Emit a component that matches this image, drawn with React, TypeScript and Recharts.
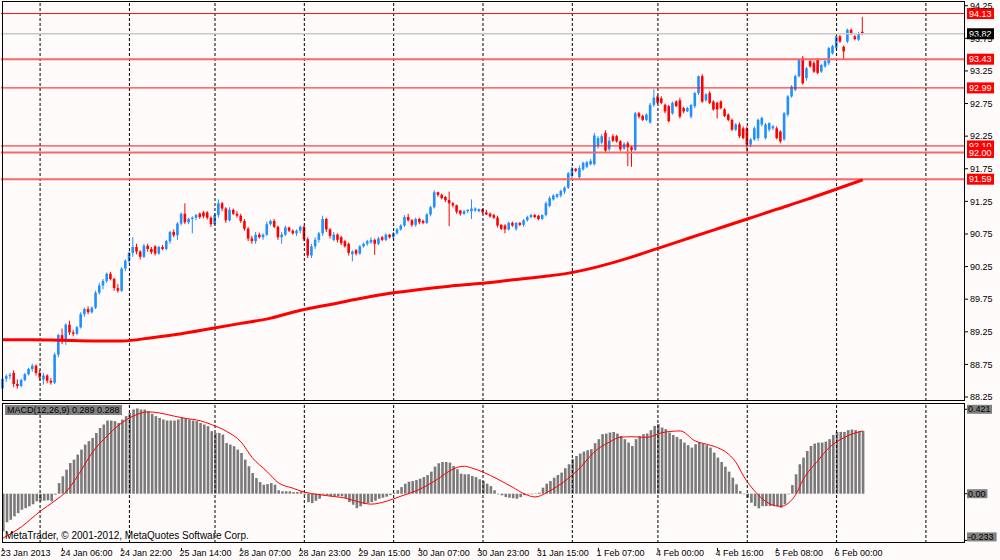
import { ComposedChart, Bar, Line, XAxis, YAxis, ReferenceLine } from "recharts";

// H1 candles, [open, high, low, close], bar 0 = 23 Jan 14:00
const candles: [number, number, number, number][] = [
  [88.38, 88.56, 88.34, 88.53], [88.53, 88.6, 88.48, 88.57], [88.57, 88.62, 88.52, 88.59], [88.62, 88.66, 88.4, 88.45],
  [88.45, 88.52, 88.38, 88.42], [88.42, 88.53, 88.4, 88.51], [88.51, 88.62, 88.49, 88.6], [88.6, 88.7, 88.58, 88.68],
  [88.68, 88.76, 88.64, 88.73], [88.73, 88.75, 88.58, 88.62], [88.62, 88.66, 88.5, 88.55], [88.52, 88.62, 88.44, 88.58],
  [88.58, 88.6, 88.46, 88.5], [88.5, 88.54, 88.44, 88.47], [88.47, 88.93, 88.45, 88.9], [88.9, 89.22, 88.86, 89.2],
  [89.2, 89.3, 89.06, 89.1], [89.1, 89.38, 89.05, 89.36], [89.36, 89.42, 89.2, 89.24], [89.24, 89.28, 89.18, 89.22],
  [89.22, 89.34, 89.2, 89.32], [89.32, 89.55, 89.3, 89.52], [89.52, 89.62, 89.48, 89.6], [89.6, 89.64, 89.52, 89.55],
  [89.55, 89.64, 89.53, 89.62], [89.62, 89.88, 89.6, 89.85], [89.85, 90.0, 89.82, 89.96], [89.96, 90.06, 89.9, 90.03],
  [90.03, 90.16, 90.0, 90.14], [90.14, 90.17, 90.04, 90.06], [90.06, 90.08, 89.88, 89.92], [89.92, 89.98, 89.85, 89.88],
  [89.88, 90.24, 89.86, 90.22], [90.22, 90.36, 90.18, 90.34], [90.34, 90.48, 90.3, 90.46], [90.46, 90.7, 90.4, 90.55],
  [90.55, 90.6, 90.44, 90.48], [90.48, 90.5, 90.36, 90.4], [90.4, 90.6, 90.38, 90.57], [90.57, 90.6, 90.48, 90.52],
  [90.52, 90.55, 90.44, 90.47], [90.56, 90.58, 90.42, 90.45], [90.45, 90.57, 90.43, 90.55], [90.55, 90.58, 90.5, 90.52],
  [90.52, 90.66, 90.5, 90.64], [90.64, 90.8, 90.6, 90.78], [90.78, 90.82, 90.7, 90.73], [90.73, 90.93, 90.66, 90.91],
  [90.91, 91.08, 90.88, 91.06], [91.06, 91.22, 90.9, 90.93], [90.93, 91.0, 90.9, 90.98], [90.98, 91.02, 90.76, 91.0],
  [91.0, 91.06, 90.96, 91.04], [91.06, 91.08, 90.98, 91.01], [91.08, 91.1, 90.99, 91.02], [91.08, 91.1, 90.97, 91.0],
  [91.0, 91.02, 90.86, 90.9], [90.9, 91.07, 90.88, 91.04], [91.04, 91.28, 91.0, 91.22], [91.22, 91.24, 91.1, 91.14],
  [91.14, 91.16, 90.92, 90.96], [90.96, 91.16, 90.94, 91.12], [91.12, 91.14, 91.04, 91.06], [91.06, 91.1, 91.0, 91.03],
  [91.03, 91.06, 90.92, 90.95], [90.95, 90.98, 90.8, 90.83], [90.83, 90.86, 90.64, 90.68], [90.68, 90.72, 90.6, 90.64],
  [90.64, 90.78, 90.6, 90.74], [90.74, 90.77, 90.68, 90.7], [90.7, 90.76, 90.66, 90.74], [90.74, 90.94, 90.72, 90.9],
  [90.9, 90.97, 90.88, 90.95], [90.95, 90.98, 90.84, 90.86], [90.86, 90.88, 90.66, 90.7], [90.7, 90.78, 90.6, 90.74],
  [90.74, 90.88, 90.72, 90.85], [90.85, 90.86, 90.78, 90.8], [90.8, 90.82, 90.74, 90.76], [90.76, 90.82, 90.72, 90.8],
  [90.8, 90.88, 90.76, 90.86], [90.86, 90.88, 90.64, 90.67], [90.67, 90.7, 90.38, 90.42], [90.42, 90.6, 90.38, 90.56],
  [90.56, 90.7, 90.52, 90.66], [90.66, 90.78, 90.62, 90.76], [90.76, 91.03, 90.72, 90.98], [90.98, 91.0, 90.78, 90.82],
  [90.82, 90.84, 90.68, 90.72], [90.66, 90.78, 90.64, 90.74], [90.74, 90.76, 90.62, 90.66], [90.7, 90.72, 90.58, 90.61],
  [90.64, 90.66, 90.54, 90.56], [90.6, 90.62, 90.42, 90.46], [90.44, 90.5, 90.33, 90.48], [90.5, 90.52, 90.42, 90.45],
  [90.45, 90.58, 90.43, 90.56], [90.56, 90.62, 90.54, 90.6], [90.6, 90.66, 90.57, 90.64], [90.62, 90.7, 90.6, 90.66],
  [90.66, 90.68, 90.43, 90.6], [90.6, 90.71, 90.58, 90.68], [90.7, 90.72, 90.64, 90.66], [90.66, 90.76, 90.64, 90.74],
  [90.74, 90.75, 90.68, 90.7], [90.7, 90.78, 90.66, 90.76], [90.76, 90.84, 90.74, 90.82], [90.82, 90.9, 90.8, 90.88],
  [90.88, 91.04, 90.86, 91.01], [91.01, 91.06, 90.94, 90.96], [90.96, 90.98, 90.86, 90.89], [90.89, 91.0, 90.86, 90.98],
  [90.98, 91.0, 90.9, 90.93], [90.95, 90.97, 90.9, 90.92], [90.92, 91.07, 90.9, 91.05], [91.05, 91.18, 91.02, 91.16],
  [91.16, 91.42, 91.14, 91.39], [91.39, 91.4, 91.32, 91.35], [91.35, 91.37, 91.28, 91.3], [91.32, 91.33, 91.24, 91.27],
  [91.27, 91.4, 90.87, 91.22], [91.22, 91.24, 91.16, 91.19], [91.19, 91.2, 91.06, 91.09], [91.11, 91.12, 91.03, 91.06],
  [91.06, 91.12, 91.04, 91.1], [91.1, 91.13, 91.07, 91.12], [91.1, 91.28, 90.98, 91.14], [91.11, 91.16, 91.09, 91.14],
  [91.1, 91.14, 91.08, 91.13], [91.13, 91.14, 91.06, 91.08], [91.08, 91.12, 91.04, 91.05], [91.06, 91.08, 91.0, 91.02],
  [91.04, 91.06, 90.98, 91.0], [91.0, 91.03, 90.85, 90.88], [90.89, 90.9, 90.81, 90.83], [90.88, 90.9, 90.76, 90.82],
  [90.82, 90.94, 90.8, 90.92], [90.92, 90.94, 90.86, 90.88], [90.83, 90.93, 90.8, 90.92], [90.92, 90.93, 90.87, 90.89],
  [90.89, 90.98, 90.86, 90.96], [90.96, 91.03, 90.94, 91.01], [91.01, 91.06, 90.99, 91.04], [91.04, 91.06, 90.99, 91.01],
  [91.03, 91.04, 90.96, 90.98], [90.98, 91.05, 90.96, 91.04], [91.04, 91.25, 91.02, 91.22], [91.18, 91.33, 91.16, 91.3],
  [91.28, 91.36, 91.26, 91.34], [91.32, 91.37, 91.3, 91.36], [91.34, 91.43, 91.31, 91.41], [91.4, 91.48, 91.36, 91.46],
  [91.46, 91.7, 91.44, 91.68], [91.64, 91.78, 91.6, 91.75], [91.75, 91.76, 91.7, 91.72], [91.62, 91.8, 91.58, 91.76],
  [91.74, 91.86, 91.72, 91.84], [91.78, 91.87, 91.76, 91.85], [91.82, 91.9, 91.8, 91.87], [91.82, 92.3, 91.8, 92.26],
  [92.1, 92.25, 92.06, 92.22], [92.15, 92.28, 92.12, 92.25], [92.3, 92.34, 92.0, 92.03], [92.05, 92.24, 92.02, 92.18],
  [92.25, 92.28, 92.16, 92.18], [92.25, 92.27, 92.15, 92.17], [92.17, 92.19, 92.02, 92.05], [92.06, 92.16, 92.04, 92.13],
  [92.14, 92.17, 91.79, 92.08], [92.08, 92.1, 91.78, 92.04], [92.04, 92.62, 92.02, 92.6], [92.6, 92.62, 92.52, 92.55],
  [92.56, 92.58, 92.48, 92.5], [92.5, 92.6, 92.48, 92.58], [92.46, 92.76, 92.44, 92.73], [92.73, 92.97, 92.7, 92.84],
  [92.86, 92.88, 92.74, 92.76], [92.83, 92.86, 92.74, 92.76], [92.73, 92.75, 92.6, 92.63], [92.71, 92.73, 92.46, 92.48],
  [92.6, 92.78, 92.58, 92.76], [92.78, 92.8, 92.7, 92.71], [92.8, 92.84, 92.52, 92.55], [92.68, 92.7, 92.6, 92.63],
  [92.63, 92.7, 92.62, 92.68], [92.55, 92.74, 92.52, 92.73], [92.71, 92.93, 92.68, 92.91], [92.91, 93.18, 92.88, 93.17],
  [93.17, 93.2, 92.76, 92.78], [92.8, 92.91, 92.78, 92.89], [92.91, 92.94, 92.74, 92.76], [92.78, 92.8, 92.64, 92.66],
  [92.76, 92.78, 92.52, 92.66], [92.78, 92.8, 92.66, 92.68], [92.66, 92.68, 92.54, 92.56], [92.58, 92.6, 92.48, 92.5],
  [92.5, 92.52, 92.33, 92.35], [92.35, 92.45, 92.33, 92.43], [92.43, 92.46, 92.22, 92.25], [92.37, 92.4, 92.2, 92.22],
  [92.37, 92.4, 91.99, 92.12], [92.12, 92.22, 92.08, 92.2], [92.2, 92.4, 92.18, 92.37], [92.22, 92.52, 92.18, 92.5],
  [92.43, 92.55, 92.4, 92.53], [92.22, 92.45, 92.2, 92.43], [92.35, 92.46, 92.32, 92.45], [92.37, 92.42, 92.34, 92.4],
  [92.37, 92.4, 92.2, 92.22], [92.32, 92.34, 92.14, 92.17], [92.2, 92.62, 92.18, 92.6], [92.58, 92.88, 92.55, 92.86],
  [92.86, 93.03, 92.84, 93.01], [92.96, 93.19, 92.94, 93.17], [93.17, 93.44, 93.15, 93.42], [93.45, 93.48, 93.04, 93.06],
  [93.14, 93.31, 93.1, 93.29], [93.4, 93.43, 93.3, 93.32], [93.37, 93.4, 93.22, 93.24], [93.42, 93.45, 93.2, 93.22],
  [93.24, 93.36, 93.22, 93.34], [93.32, 93.42, 93.3, 93.4], [93.37, 93.62, 93.34, 93.6], [93.52, 93.65, 93.5, 93.63],
  [93.6, 93.8, 93.58, 93.78], [93.78, 93.8, 93.68, 93.7], [93.62, 93.64, 93.42, 93.55], [93.7, 93.9, 93.68, 93.88],
  [93.88, 93.9, 93.8, 93.83], [93.78, 93.8, 93.72, 93.74], [93.73, 93.85, 93.71, 93.83], [93.85, 94.08, 93.8, 93.82],
];

// moving average, read at every 8th bar: [bar, value]
const maPoints: [number, number][] = [
  [0, 89.13], [8, 89.13], [16, 89.12], [24, 89.11], [32, 89.11], [40, 89.16], [48, 89.22], [56, 89.3],
  [64, 89.38], [72, 89.46], [80, 89.58], [88, 89.67], [96, 89.76], [104, 89.84], [112, 89.9], [120, 89.95],
  [128, 89.99], [136, 90.04], [144, 90.09], [152, 90.15], [160, 90.25], [168, 90.38], [176, 90.53], [184, 90.68],
  [192, 90.83], [200, 90.98], [208, 91.13], [216, 91.28], [224, 91.44], [231, 91.58],
];

// MACD(12,26,9) histogram, one per candle
const macdHist = [
  -0.188, -0.143, -0.13, -0.113, -0.097, -0.08, -0.072, -0.063, -0.052, -0.038,
  -0.038, -0.035, -0.033, -0.038, -0.005, 0.053, 0.087, 0.12, 0.153, 0.17,
  0.195, 0.22, 0.245, 0.262, 0.278, 0.303, 0.328, 0.345, 0.365, 0.365,
  0.362, 0.353, 0.37, 0.387, 0.403, 0.42, 0.425, 0.42, 0.42, 0.412,
  0.398, 0.387, 0.378, 0.37, 0.365, 0.365, 0.365, 0.37, 0.378, 0.375,
  0.37, 0.365, 0.362, 0.353, 0.345, 0.337, 0.312, 0.303, 0.303, 0.295,
  0.253, 0.245, 0.237, 0.22, 0.203, 0.17, 0.137, 0.103, 0.078, 0.058,
  0.045, 0.048, 0.053, 0.045, 0.017, 0.012, 0.012, 0.012, 0.008, 0.008,
  0.012, -0.005, -0.042, -0.047, -0.035, -0.025, -0.005, -0.008, -0.013, -0.013,
  -0.013, -0.013, -0.022, -0.042, -0.055, -0.072, -0.063, -0.052, -0.047, -0.042,
  -0.035, -0.025, -0.02, -0.015, -0.007, 0.004, 0.018, 0.033, 0.05, 0.06,
  0.063, 0.068, 0.075, 0.083, 0.093, 0.11, 0.135, 0.152, 0.158, 0.158,
  0.155, 0.138, 0.122, 0.1, 0.097, 0.097, 0.088, 0.083, 0.072, 0.063,
  0.05, 0.038, 0.017, -0.003, -0.008, -0.017, -0.02, -0.023, -0.025, -0.017,
  -0.007, -0.003, -0.003, 0.002, 0.005, 0.03, 0.05, 0.063, 0.08, 0.093,
  0.105, 0.127, 0.147, 0.172, 0.188, 0.2, 0.21, 0.217, 0.222, 0.252,
  0.272, 0.297, 0.3, 0.305, 0.308, 0.3, 0.288, 0.272, 0.255, 0.238,
  0.272, 0.288, 0.297, 0.3, 0.317, 0.338, 0.347, 0.33, 0.322, 0.305,
  0.293, 0.283, 0.272, 0.255, 0.242, 0.23, 0.247, 0.258, 0.25, 0.242,
  0.23, 0.205, 0.18, 0.158, 0.135, 0.11, 0.08, 0.047, 0.013, -0.003,
  -0.02, -0.045, -0.062, -0.073, -0.062, -0.062, -0.062, -0.062, -0.062, -0.07,
  -0.053, -0.003, 0.043, 0.097, 0.147, 0.18, 0.213, 0.238, 0.25, 0.255,
  0.255, 0.26, 0.272, 0.293, 0.308, 0.308, 0.308, 0.317, 0.32, 0.317,
  0.313, 0.313,
];

// signal line, read at a few bars: [bar, value]
const signalPoints: [number, number][] = [
  [0, -0.222], [5, -0.165], [10, -0.088], [14, -0.035], [17, 0.01], [21, 0.115], [24, 0.205], [28, 0.288],
  [31, 0.34], [35, 0.387], [39, 0.408], [42, 0.403], [46, 0.387], [49, 0.376], [53, 0.364], [56, 0.345],
  [60, 0.312], [64, 0.258], [67, 0.18], [71, 0.11], [74, 0.055], [78, 0.027], [81, 0.008], [85, -0.005],
  [89, -0.014], [92, -0.022], [96, -0.043], [99, -0.052], [103, -0.038], [107, -0.012], [112, 0.022], [116, 0.063],
  [120, 0.113], [122, 0.131], [124, 0.137], [126, 0.128], [129, 0.108], [133, 0.072], [137, 0.032], [140, 0.0],
  [143, -0.016], [147, 0.015], [151, 0.063], [155, 0.128], [159, 0.21], [163, 0.258], [166, 0.282], [169, 0.284],
  [173, 0.281], [177, 0.304], [182, 0.313], [186, 0.263], [189, 0.247], [192, 0.23], [195, 0.197], [197, 0.155],
  [199, 0.088], [202, 0.013], [206, -0.05], [209, -0.063], [211, -0.048], [213, -0.005], [215, 0.07], [219, 0.165],
  [222, 0.23], [226, 0.28], [231, 0.313],
];

const timeTickIdx = [0, 16, 32, 48, 64, 80, 96, 112, 128, 144, 160, 176, 192, 208, 224];
const timeLabels = [
  "23 Jan 2013", "24 Jan 06:00", "24 Jan 22:00", "25 Jan 14:00", "28 Jan 07:00", "28 Jan 23:00",
  "29 Jan 15:00", "30 Jan 07:00", "30 Jan 23:00", "31 Jan 15:00", "1 Feb 07:00", "4 Feb 00:00",
  "4 Feb 16:00", "5 Feb 08:00", "6 Feb 00:00",
];
// 00:00 bar of each day (last one is in the empty space on the right)
const daySepIdx = [10, 34, 57, 81, 105, 129, 153, 176, 200, 224, 248];

const priceTicks = [94.25, 93.75, 93.25, 92.75, 92.25, 91.75, 91.25, 90.75, 90.25, 89.75, 89.25, 88.75, 88.25];
const levelPrices = [94.13, 93.43, 92.99, 92.1, 92.0, 91.59];
const levelThick = [false, true, false, false, true, true];
const bidPrice = 93.82;
const macdTicks = [0.421, 0, -0.233];

const SLOTS = 259;
const BG = "#FFFBFA";
const FONT = "'Liberation Sans', Arial, sans-serif";
const UP = "#1E90FF";
const DOWN = "#FF0000";

const maMap = new Map(maPoints);
const sigMap = new Map(signalPoints);

const priceRows = Array.from({ length: SLOTS }, (_, i) => {
  const k = candles[i];
  return {
    i,
    range: k ? [k[2], k[1]] : null,
    o: k ? k[0] : null,
    h: k ? k[1] : null,
    l: k ? k[2] : null,
    c: k ? k[3] : null,
    ma: maMap.has(i) ? maMap.get(i) : null,
  };
});

const macdRows = Array.from({ length: SLOTS }, (_, i) => ({
  i,
  hist: i < macdHist.length ? macdHist[i] : null,
  sig: sigMap.has(i) ? sigMap.get(i) : null,
}));

function Candle(props: any) {
  const { x, y, width, height, payload } = props;
  if (!payload || payload.o == null) return null;
  const top = Math.min(y, y + height);
  const h = Math.abs(height);
  const span = payload.h - payload.l || 1e-6;
  const py = (v: number) => top + ((payload.h - v) / span) * h;
  const color = payload.c >= payload.o ? UP : DOWN;
  const cx = x + width / 2;
  const bTop = py(Math.max(payload.o, payload.c));
  const bBot = py(Math.min(payload.o, payload.c));
  return (
    <g>
      <line x1={cx} x2={cx} y1={top} y2={top + h} stroke={color} strokeWidth={1} />
      <rect x={cx - 1.3} y={bTop} width={2.6} height={Math.max(1, bBot - bTop)} fill={color} />
    </g>
  );
}

function PriceTick(props: any) {
  const { x, y, payload } = props;
  return (
    <g>
      <line x1={x} x2={x + 3} y1={y} y2={y} stroke="#000" />
      <text x={x + 5} y={y + 3.3} fontSize={9} fontFamily={FONT} fill="#000">
        {Number(payload.value).toFixed(2)}
      </text>
    </g>
  );
}

function MacdTick(props: any) {
  const { x, y, payload } = props;
  const v = Number(payload.value);
  const t = v === 0 ? "0.00" : v.toFixed(3);
  const w = t.length * 4.6 + 2;
  const top = v < 0 ? y - 8 : y - 4.5;
  return (
    <g>
      <line x1={x} x2={x + 3} y1={y} y2={y} stroke="#000" />
      <rect x={x + 2} y={top} width={w} height={9} fill="#808080" />
      <text x={x + 3} y={top + 7.5} fontSize={9} fontFamily={FONT} fill="#000">
        {t}
      </text>
    </g>
  );
}

function TimeTick(props: any) {
  const { x, y, payload } = props;
  const k = timeTickIdx.indexOf(Number(payload.value));
  if (k < 0) return null;
  return (
    <g>
      <line x1={x} x2={x} y1={y + 5} y2={y + 8} stroke="#000" />
      <text x={x - 2} y={y + 12.5} fontSize={9} fontFamily={FONT} fill="#000">
        {timeLabels[k]}
      </text>
    </g>
  );
}

function PriceTag(props: any) {
  const { viewBox, text, bg } = props;
  if (!viewBox) return null;
  const x = viewBox.x + viewBox.width;
  const y = viewBox.y;
  return (
    <g>
      <rect x={x + 2} y={y - 5.5} width={27} height={11} fill={bg} />
      <text x={x + 4} y={y + 3.3} fontSize={9} fontFamily={FONT} fill="#FFF">
        {text}
      </text>
    </g>
  );
}

export default function App() {
  return (
    <div style={{ position: "absolute", left: 0, top: 0, width: 1000, height: 560, background: BG, overflow: "hidden" }}>
      <div style={{ position: "absolute", left: 0, top: 0 }}>
        <ComposedChart width={1000} height={402} data={priceRows} margin={{ top: 2, right: 0, bottom: 1, left: 1 }}>
          <XAxis dataKey="i" hide />
          <YAxis
            orientation="right"
            width={35}
            domain={[88.189, 94.307]}
            ticks={priceTicks}
            interval={0}
            axisLine={false}
            tickLine={false}
            tickSize={0}
            tickMargin={0}
            tick={<PriceTick />}
          />
          {daySepIdx.map((d) => (
            <ReferenceLine key={"d" + d} x={d} stroke="#000" strokeDasharray="3 2" ifOverflow="visible" />
          ))}
          {levelPrices.map((p, k) => (
            <ReferenceLine
              key={"l" + p}
              y={p}
              stroke={levelThick[k] ? "#FF6464" : "#FF1010"}
              strokeWidth={levelThick[k] ? 2 : 1}
              label={<PriceTag text={p.toFixed(2)} bg="#FF0000" />}
            />
          ))}
          <ReferenceLine y={bidPrice} stroke="#C8C8C8" strokeWidth={1.5} label={<PriceTag text={bidPrice.toFixed(2)} bg="#000" />} />
          <Bar dataKey="range" barSize={3} shape={<Candle />} isAnimationActive={false} />
          <Line
            dataKey="ma"
            type="monotone"
            connectNulls
            stroke="#FF0000"
            strokeWidth={3}
            dot={false}
            activeDot={false}
            isAnimationActive={false}
          />
        </ComposedChart>
      </div>
      <div style={{ position: "absolute", left: 0, top: 403 }}>
        <ComposedChart width={1000} height={157} data={macdRows} margin={{ top: 0, right: 0, bottom: 0, left: 1 }}>
          <XAxis
            dataKey="i"
            height={17}
            ticks={timeTickIdx}
            interval={0}
            axisLine={false}
            tickLine={false}
            tickSize={0}
            tickMargin={0}
            tick={<TimeTick />}
          />
          <YAxis
            orientation="right"
            width={35}
            domain={[-0.2459, 0.4524]}
            ticks={macdTicks}
            interval={0}
            axisLine={false}
            tickLine={false}
            tickSize={0}
            tickMargin={0}
            tick={<MacdTick />}
          />
          {daySepIdx.map((d) => (
            <ReferenceLine key={"m" + d} x={d} stroke="#000" strokeDasharray="3 2" ifOverflow="visible" />
          ))}
          <Bar dataKey="hist" barSize={2.6} fill="#7A7A7A" isAnimationActive={false} />
          <Line
            dataKey="sig"
            type="monotone"
            connectNulls
            stroke="#FF0000"
            strokeWidth={1}
            dot={false}
            activeDot={false}
            isAnimationActive={false}
          />
        </ComposedChart>
      </div>
      <div style={{ position: "absolute", left: 2, top: 1, width: 963, height: 400, border: "1px solid #000", boxSizing: "border-box", pointerEvents: "none" }} />
      <div style={{ position: "absolute", left: 2, top: 403, width: 963, height: 140, border: "1px solid #000", boxSizing: "border-box", pointerEvents: "none" }} />
      <div style={{ position: "absolute", left: 5, top: 405, height: 10, lineHeight: "10px", padding: "0 2px", background: "#808080", color: "#000", fontFamily: FONT, fontSize: 9, whiteSpace: "nowrap" }}>
        MACD(12,26,9) 0.289 0.288
      </div>
      <div style={{ position: "absolute", left: 5, top: 530, lineHeight: "12px", color: "#000", fontFamily: FONT, fontSize: 10, whiteSpace: "nowrap" }}>
        MetaTrader, © 2001-2012, MetaQuotes Software Corp.
      </div>
    </div>
  );
}
